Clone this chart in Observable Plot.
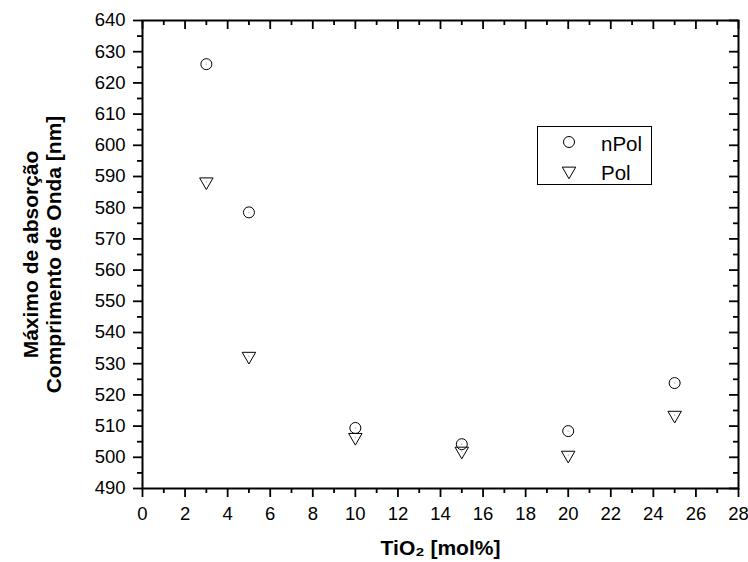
<!DOCTYPE html>
<html>
<head>
<meta charset="utf-8">
<script src="https://cdn.jsdelivr.net/npm/d3@7"></script>
<script src="https://cdn.jsdelivr.net/npm/@observablehq/plot@0.6"></script>
<style>
  body { margin: 0; background: #fff; }
  #wrap { position: relative; width: 748px; height: 562px; font-family: "Liberation Sans", Arial, sans-serif; }
  #legend { position: absolute; left: 537px; top: 126px; }
</style>
</head>
<body>
<div id="wrap"><div id="chart"></div><div id="legend"></div></div>
<script>
// ---- data ----
const tio2 = [3, 5, 10, 15, 20, 25];
const nPol = [626, 578.5, 509.4, 504.2, 508.4, 523.8];
const pol  = [588.3, 532.4, 506.4, 502, 500.7, 513.5];
const seriesNames = ["nPol", "Pol"];
const xMajorTicks = [0, 2, 4, 6, 8, 10, 12, 14, 16, 18, 20, 22, 24, 26, 28];
const xMinorTicks = [1, 3, 5, 7, 9, 11, 13, 15, 17, 19, 21, 23, 25, 27];
const yMajorTicks = [490, 500, 510, 520, 530, 540, 550, 560, 570, 580, 590, 600, 610, 620, 630, 640];
const yMinorTicks = [495, 505, 515, 525, 535, 545, 555, 565, 575, 585, 595, 605, 615, 625, 635];
const xTitle = "TiO₂ [mol%]";
const yTitleLines = ["Máximo de absorção", "Comprimento de Onda [nm]"];

// ---- layout ----
const W = 748, H = 562;
const mL = 142, mR = 10, mT = 20, mB = 74;
const frameW = W - mL - mR, frameH = H - mT - mB;

const rowsN = tio2.map((x, i) => ({x, y: nPol[i]}));
const rowsP = tio2.map((x, i) => ({x, y: pol[i]}));
const none = () => "";

const chart = Plot.plot({
  width: W, height: H,
  marginLeft: mL, marginRight: mR, marginTop: mT, marginBottom: mB,
  style: {fontFamily: "Liberation Sans, Arial, sans-serif", color: "#000", background: "#fff"},
  x: {domain: [0, 28]},
  y: {domain: [490, 640]},
  marks: [
    // outward ticks (left & bottom)
    Plot.axisX({ticks: xMajorTicks, tickSize: 9, tickPadding: 9, fontSize: 18.5, strokeWidth: 1.8, label: null, tickFormat: d => String(d)}),
    Plot.axisX({ticks: xMinorTicks, tickSize: 5, strokeWidth: 1.8, label: null, tickFormat: none}),
    Plot.axisY({ticks: yMajorTicks, tickSize: 9, tickPadding: 8, fontSize: 18.5, strokeWidth: 1.8, label: null, tickFormat: d => String(d)}),
    Plot.axisY({ticks: yMinorTicks, tickSize: 5, strokeWidth: 1.8, label: null, tickFormat: none}),
    // inward mirror ticks (top & right)
    Plot.tickX(xMajorTicks, {x: d => d, insetBottom: frameH - 9, strokeWidth: 1.8}),
    Plot.tickX(xMinorTicks, {x: d => d, insetBottom: frameH - 5, strokeWidth: 1.8}),
    Plot.tickY(yMajorTicks, {y: d => d, insetLeft: frameW - 9, strokeWidth: 1.8}),
    Plot.tickY(yMinorTicks, {y: d => d, insetLeft: frameW - 5, strokeWidth: 1.8}),
    Plot.frame({stroke: "#000", strokeWidth: 2}),
    // data
    Plot.dot(rowsN, {x: "x", y: "y", symbol: "circle", r: 5.5, stroke: "#000", strokeWidth: 1, fill: "none"}),
    Plot.dot(rowsP, {x: "x", y: "y", symbol: "triangle", rotate: 180, r: 5, stroke: "#000", strokeWidth: 1, fill: "none"}),
    Plot.dot(rowsN.concat(rowsP), {x: "x", y: "y", r: 0.6, fill: "#999", stroke: "none"}),
    // titles
    Plot.text([xTitle], {text: d => d, frameAnchor: "bottom", dy: 60, fontSize: 21, fontWeight: "bold", lineAnchor: "middle", textAnchor: "middle"}),
    Plot.text([yTitleLines.join("\n")], {text: d => d, frameAnchor: "left", dx: -100, rotate: -90, fontSize: 21, fontWeight: "bold", lineHeight: 1.1, lineAnchor: "middle", textAnchor: "middle"})
  ]
});
document.getElementById("chart").appendChild(chart);

// ---- legend (inside plot area, drawn as inline svg) ----
const lw = 115, lh = 59;
const leg = d3.select("#legend").append("svg").attr("width", lw).attr("height", lh)
  .style("font-family", "Liberation Sans, Arial, sans-serif");
leg.append("rect").attr("x", 0.5).attr("y", 0.5).attr("width", lw - 1).attr("height", lh - 1)
  .attr("fill", "#fff").attr("stroke", "#000").attr("stroke-width", 1);
const symbols = [d3.symbolCircle, d3.symbolTriangle];
const sizes = [Math.PI * 5.5 * 5.5, Math.PI * 5 * 5];
const rowY = [16, 45];
seriesNames.forEach((name, i) => {
  leg.append("path").attr("d", d3.symbol(symbols[i], sizes[i])())
    .attr("transform", `translate(32,${rowY[i]}) rotate(${i === 1 ? 180 : 0})`)
    .attr("fill", "none").attr("stroke", "#000").attr("stroke-width", 1);
  leg.append("text").attr("x", 64).attr("y", rowY[i] + 9).attr("font-size", 20.5).text(name);
});
</script>
</body>
</html>
